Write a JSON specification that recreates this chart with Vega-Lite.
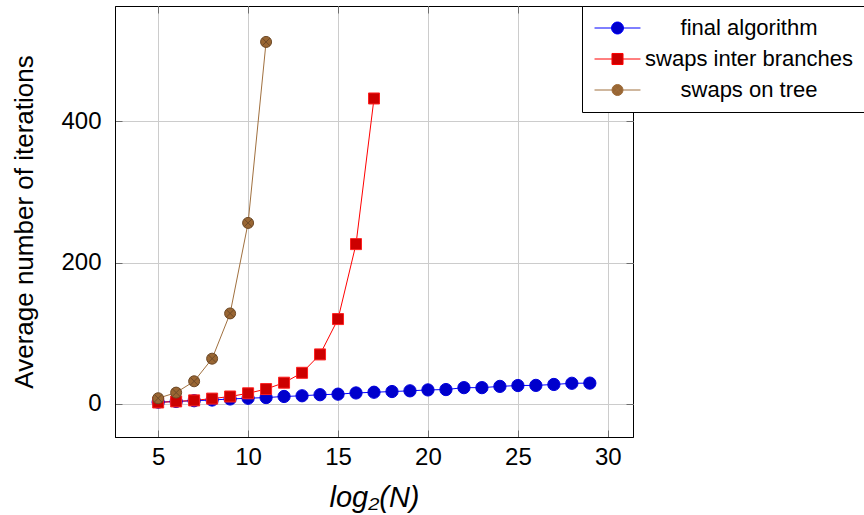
{
  "$schema": "https://vega.github.io/schema/vega-lite/v6.json",
  "width": 518,
  "height": 431,
  "autosize": "none",
  "padding": {"left": 115, "top": 6, "right": 231, "bottom": 78},
  "background": "white",
  "config": {
    "view": {"stroke": "black", "strokeWidth": 1},
    "font": "Liberation Sans",
    "axis": {
      "labelFont": "Liberation Sans",
      "titleFont": "Liberation Sans",
      "labelColor": "black",
      "titleColor": "black",
      "titleFontWeight": "normal",
      "domainColor": "black",
      "tickColor": "#6e6e6e",
      "gridColor": "#cccccc",
      "gridWidth": 1
    }
  },
  "data": {
    "values": [
      {"series": "final algorithm", "n": 5, "v": 2.5},
      {"series": "final algorithm", "n": 6, "v": 3.5},
      {"series": "final algorithm", "n": 7, "v": 4.5},
      {"series": "final algorithm", "n": 8, "v": 5.5},
      {"series": "final algorithm", "n": 9, "v": 7},
      {"series": "final algorithm", "n": 10, "v": 8},
      {"series": "final algorithm", "n": 11, "v": 9},
      {"series": "final algorithm", "n": 12, "v": 10.5},
      {"series": "final algorithm", "n": 13, "v": 11.5},
      {"series": "final algorithm", "n": 14, "v": 13},
      {"series": "final algorithm", "n": 15, "v": 13.8},
      {"series": "final algorithm", "n": 16, "v": 15.5},
      {"series": "final algorithm", "n": 17, "v": 16.5},
      {"series": "final algorithm", "n": 18, "v": 17.5},
      {"series": "final algorithm", "n": 19, "v": 18.5},
      {"series": "final algorithm", "n": 20, "v": 19.8},
      {"series": "final algorithm", "n": 21, "v": 20.3},
      {"series": "final algorithm", "n": 22, "v": 23},
      {"series": "final algorithm", "n": 23, "v": 23},
      {"series": "final algorithm", "n": 24, "v": 24.8},
      {"series": "final algorithm", "n": 25, "v": 26},
      {"series": "final algorithm", "n": 26, "v": 26.2},
      {"series": "final algorithm", "n": 27, "v": 27.5},
      {"series": "final algorithm", "n": 28, "v": 29.2},
      {"series": "final algorithm", "n": 29, "v": 29.4},
      {"series": "swaps inter branches", "n": 5, "v": 2},
      {"series": "swaps inter branches", "n": 6, "v": 3.5},
      {"series": "swaps inter branches", "n": 7, "v": 5},
      {"series": "swaps inter branches", "n": 8, "v": 7.5},
      {"series": "swaps inter branches", "n": 9, "v": 10.5},
      {"series": "swaps inter branches", "n": 10, "v": 15},
      {"series": "swaps inter branches", "n": 11, "v": 21},
      {"series": "swaps inter branches", "n": 12, "v": 30},
      {"series": "swaps inter branches", "n": 13, "v": 44},
      {"series": "swaps inter branches", "n": 14, "v": 70},
      {"series": "swaps inter branches", "n": 15, "v": 120},
      {"series": "swaps inter branches", "n": 16, "v": 226},
      {"series": "swaps inter branches", "n": 17, "v": 432},
      {"series": "swaps on tree", "n": 5, "v": 8},
      {"series": "swaps on tree", "n": 6, "v": 16},
      {"series": "swaps on tree", "n": 7, "v": 32},
      {"series": "swaps on tree", "n": 8, "v": 64},
      {"series": "swaps on tree", "n": 9, "v": 128},
      {"series": "swaps on tree", "n": 10, "v": 256},
      {"series": "swaps on tree", "n": 11, "v": 512}
    ]
  },
  "encoding": {
    "x": {"field": "n", "type": "quantitative", "scale": {"domain": [2.6, 31.4], "nice": false, "zero": false}},
    "y": {"field": "v", "type": "quantitative", "scale": {"domain": [-46.8, 562.8], "nice": false, "zero": false}}
  },
  "layer": [
    {
      "mark": {"type": "line", "strokeWidth": 1},
      "encoding": {
        "x": {
          "field": "n", "type": "quantitative",
          "axis": {"orient": "top", "values": [5, 10, 15, 20, 25, 30], "labels": false, "grid": false, "domain": false, "tickSize": -7, "title": null}
        },
        "y": {
          "field": "v", "type": "quantitative",
          "axis": {"orient": "right", "values": [0, 200, 400], "labels": false, "grid": false, "domain": false, "tickSize": -7, "title": null}
        },
        "color": {
          "field": "series", "type": "nominal",
          "scale": {"domain": ["final algorithm", "swaps inter branches", "swaps on tree"], "range": ["#0000ff", "#ff0000", "#a0703f"]},
          "legend": {
            "orient": "none",
            "legendX": 467,
            "legendY": 0,
            "title": null,
            "padding": 11,
            "rowPadding": 9,
            "strokeColor": "black",
            "fillColor": "white",
            "cornerRadius": 0,
            "labelFont": "Liberation Sans",
            "labelFontSize": 22,
            "labelColor": "black",
            "labelAlign": "center",
            "labelOffset": 134,
            "labelLimit": 400,
            "symbolSize": 144,
            "symbolStrokeWidth": 1,
            "symbolOpacity": 1,
            "encode": {
              "symbols": {
                "update": {
                  "shape": {"signal": "datum.value === 'final algorithm' ? 'M-1.58,0H1.25M3.25,0H6.08M3.25,0A1,1 0 1,1 1.25,0A1,1 0 1,1 3.25,0' : datum.value === 'swaps inter branches' ? 'M-1.58,0H1.33M3.17,0H6.08M1.33,-0.92H3.17V0.92H1.33Z' : 'M-1.58,0H1.33M3.17,0H6.08M3.17,0A0.92,0.92 0 1,1 1.33,0A0.92,0.92 0 1,1 3.17,0M1.6,-0.65L2.9,0.65M1.6,0.65L2.9,-0.65'"},
                  "fill": {"signal": "datum.value === 'final algorithm' ? '#0000cc' : datum.value === 'swaps inter branches' ? '#cc0000' : '#996633'"},
                  "stroke": {"signal": "datum.value === 'final algorithm' ? '#0000ff' : datum.value === 'swaps inter branches' ? '#ff0000' : '#7a5430'"},
                  "strokeWidth": {"value": 1},
                  "opacity": {"value": 1}
                }
              }
            }
          }
        }
      }
    },
    {
      "transform": [{"filter": "datum.series === 'final algorithm'"}],
      "mark": {"type": "point", "shape": "circle", "filled": true, "fill": "#0000cc", "stroke": "#0000dd", "strokeWidth": 1, "size": 150, "opacity": 1},
      "encoding": {
        "x": {
          "field": "n", "type": "quantitative",
          "axis": {"orient": "bottom", "values": [5, 10, 15, 20, 25, 30], "grid": true, "tickSize": -7, "labelFontSize": 24, "labelPadding": 15, "title": "log₂(N)", "titleFontSize": 29, "titleFontStyle": "italic", "titlePadding": 14}
        },
        "y": {
          "field": "v", "type": "quantitative",
          "axis": {"orient": "left", "values": [0, 200, 400], "grid": true, "tickSize": -7, "labelFontSize": 24, "labelPadding": 21, "title": "Average number of iterations", "titleFontSize": 26, "titlePadding": 23}
        }
      }
    },
    {
      "transform": [{"filter": "datum.series === 'swaps inter branches'"}],
      "mark": {"type": "point", "shape": "square", "filled": true, "fill": "#cc0000", "stroke": "#ff2020", "strokeWidth": 1, "size": 121, "opacity": 1},
      "encoding": {
        "x": {"field": "n", "type": "quantitative", "axis": null},
        "y": {"field": "v", "type": "quantitative", "axis": null}
      }
    },
    {
      "transform": [{"filter": "datum.series === 'swaps on tree'"}],
      "mark": {"type": "point", "shape": "M1,0A1,1 0 1,1 -1,0A1,1 0 1,1 1,0M-0.7,-0.7L0.7,0.7M-0.7,0.7L0.7,-0.7", "filled": true, "fill": "#996633", "stroke": "#6e4a28", "strokeWidth": 1, "size": 121, "opacity": 1},
      "encoding": {
        "x": {"field": "n", "type": "quantitative", "axis": null},
        "y": {"field": "v", "type": "quantitative", "axis": null}
      }
    }
  ],
  "resolve": {"axis": {"x": "independent", "y": "independent"}}
}
